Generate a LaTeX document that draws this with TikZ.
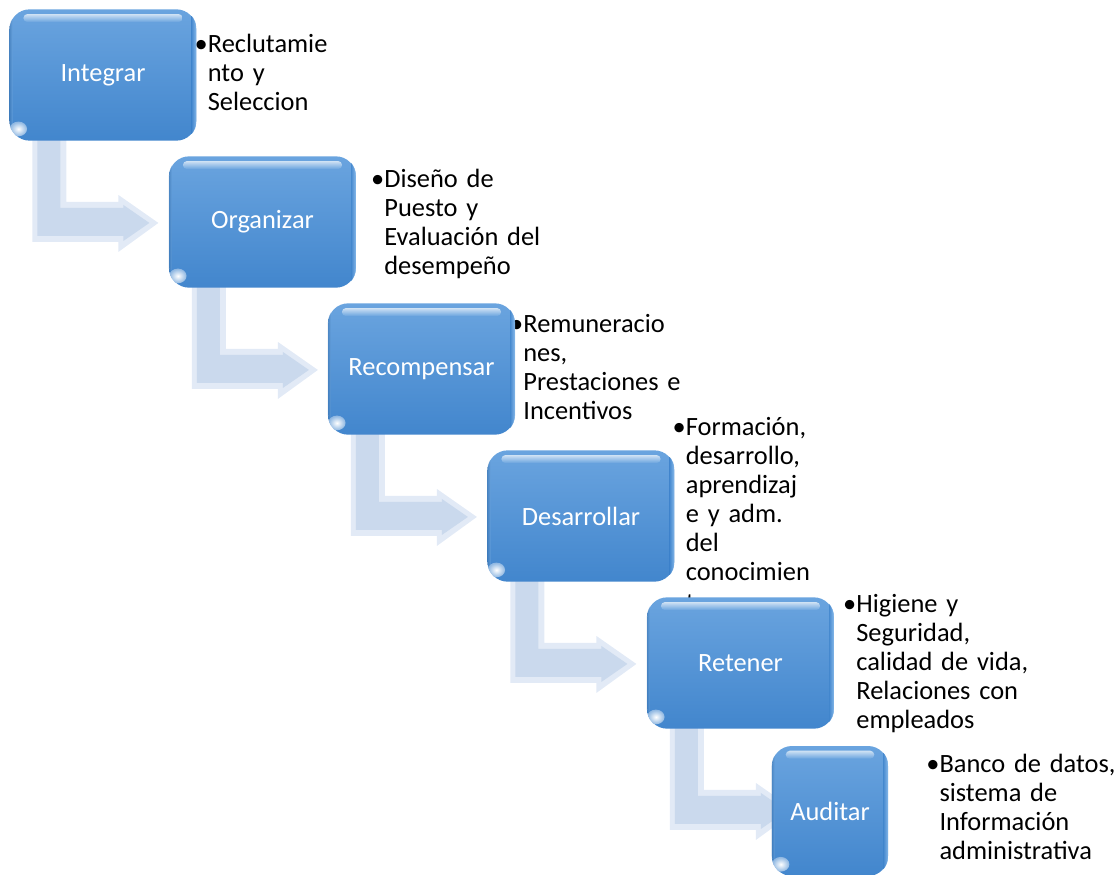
\documentclass[tikz,border=0pt]{standalone}
\usepackage{fontspec}
\setmainfont{Carlito}
\usetikzlibrary{calc}
\pgfdeclarelayer{back}
\pgfsetlayers{back,main}

\definecolor{boxtop}{RGB}{106,164,223}
\definecolor{boxbot}{RGB}{66,134,205}
\definecolor{boxrim}{RGB}{150,196,240}
\definecolor{arrowface}{RGB}{202,217,237}
\definecolor{arrowedge}{RGB}{226,234,246}

\tikzset{
  x=0.75pt, y=-0.75pt,
  stepbox/.style={rounded corners=15pt, minimum width=140pt, minimum height=98.5pt,
    top color=boxtop, bottom color=boxbot, draw=none, text=white,
    font=\fontsize{19.8}{21.75}\selectfont, inner sep=0pt},
  desc/.style={anchor=base west, inner sep=0pt, align=left, text width=240pt,
    font=\fontsize{19.8}{21.75}\selectfont, text=black},
  bentouter/.style={fill=arrowedge},
  bentinner/.style={fill=arrowface},
}

% gloss on a step box: side rims, top highlight strip and bottom-left spot
\newcommand\gloss[1]{%
  \begin{scope}
    \clip[rounded corners=15pt] (#1.south west) rectangle (#1.north east);
    \shade[left color=boxbot, right color=boxrim, opacity=0.8]
      ($(#1.north east)+(-5,0)$) rectangle (#1.south east);
    \shade[left color=boxbot!85!black, right color=boxtop, opacity=0.5]
      (#1.north west) rectangle ($(#1.south west)+(3,0)$);
    \shade[top color=white!75!boxtop, bottom color=boxtop, opacity=0.9, rounded corners=3pt]
      ($(#1.north west)+(14,5)$) rectangle ($(#1.north east)+(-14,13)$);
    \shade[inner color=white, outer color=boxbot!60!white]
      ($(#1.south west)+(9,-12)$) ellipse [x radius=6.5pt, y radius=5.5pt];
  \end{scope}
}

% bent arrow leaving the bottom of one box towards the next
\newcommand\bentarrow[1]{%
  \coordinate (o) at (#1.south west);
  \fill[bentouter] ($(o)+(23,-12)$) -- ($(o)+(57,-12)$) -- ($(o)+(57,61)$)
    -- ($(o)+(109,61)$) -- ($(o)+(109,54)$) -- ($(o)+(149,82)$)
    -- ($(o)+(109,111)$) -- ($(o)+(109,101)$) -- ($(o)+(23,101)$) -- cycle;
  \fill[bentinner] ($(o)+(28,-12)$) -- ($(o)+(51,-12)$) -- ($(o)+(51,67)$)
    -- ($(o)+(114,67)$) -- ($(o)+(114,64)$) -- ($(o)+(140,82)$)
    -- ($(o)+(114,100)$) -- ($(o)+(114,95)$) -- ($(o)+(28,95)$) -- cycle;
}

\begin{document}
\begin{tikzpicture}
\useasboundingbox (0,0) rectangle (1116,874);

% process steps
\node[stepbox] (b1) at (103,75)    {Integrar};
\node[stepbox] (b2) at (262.5,222) {Organizar};
\node[stepbox] (b3) at (421.5,369) {Recompensar};
\node[stepbox] (b4) at (581,516)   {Desarrollar};
\node[stepbox] (b5) at (740.5,663) {Retener};
\node[stepbox, minimum width=87pt, minimum height=97.5pt] (b6) at (830,811) {Auditar};

\foreach \b in {b1,b2,b3,b4,b5,b6} {\gloss{\b}}

\begin{pgfonlayer}{back}
  \foreach \b in {b1,b2,b3,b4,b5} {\bentarrow{\b}}

  \node[desc] (t1) at ($(b1.north east)+(11,43)$)
    {\llap{•}Reclutamie\\nto y\\Seleccion};
  \node[desc] (t2) at ($(b2.north east)+(28,31)$)
    {\llap{•}Diseño de\\Puesto y\\Evaluación del\\desempeño};
  \node[desc] (t3) at ($(b3.north east)+(8,29)$)
    {\llap{•}Remuneracio\\nes,\\Prestaciones e\\Incentivos};
  \node[desc] (t4) at ($(b4.north east)+(11,-15)$)
    {\llap{•}Formación,\\desarrollo,\\aprendizaj\\e y adm.\\del\\conocimien\\[2pt]to};
  \node[desc] (t5) at ($(b5.north east)+(22,15)$)
    {\llap{•}Higiene y\\Seguridad,\\calidad de vida,\\Relaciones con\\empleados};
  \node[desc] (t6) at ($(b6.north east)+(51,27)$)
    {\llap{•}Banco de datos,\\sistema de\\Información\\administrativa};
\end{pgfonlayer}
\end{tikzpicture}
\end{document}
